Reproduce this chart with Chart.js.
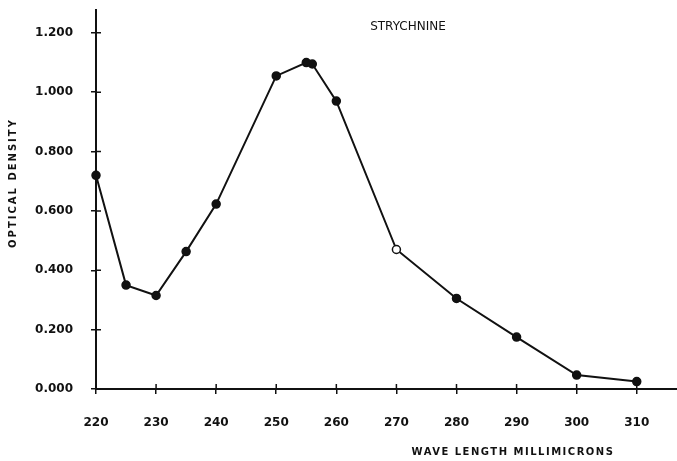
<!DOCTYPE html>
<html>
<head>
<meta charset="utf-8">
<script src="https://cdn.jsdelivr.net/npm/chart.js@4"></script>
<style>
  html, body { margin: 0; padding: 0; background: #fff; }
  #wrap { width: 677px; height: 461px; position: relative; }
</style>
</head>
<body>
<div id="wrap"><canvas id="chart"></canvas></div>
<script>
// Strychnine absorption curve
const wavelengths = [220, 225, 230, 235, 240, 250, 255, 256, 260, 270, 280, 290, 300, 310];
const density = [0.72, 0.35, 0.315, 0.463, 0.623, 1.055, 1.10, 1.095, 0.97, 0.47, 0.305, 0.175, 0.047, 0.025];
const xTicks = [220, 230, 240, 250, 260, 270, 280, 290, 300, 310];
const yTicks = [0, 0.2, 0.4, 0.6, 0.8, 1.0, 1.2];

const ink = '#111';
const tickFont = { family: 'DejaVu Sans', size: 12, weight: 'bold' };

// text labels and inner half of the axis ticks
const extras = {
  id: 'extras',
  afterDraw(chart) {
    const ctx = chart.ctx;
    const xs = chart.scales.x, ys = chart.scales.y;
    ctx.save();
    ctx.strokeStyle = ink;
    ctx.lineWidth = 1.5;
    ctx.beginPath();
    xTicks.forEach(v => {
      const px = xs.getPixelForValue(v);
      ctx.moveTo(px, ys.bottom);
      ctx.lineTo(px, ys.bottom - 5);
    });
    yTicks.forEach(v => {
      const py = ys.getPixelForValue(v);
      ctx.moveTo(xs.left, py);
      ctx.lineTo(xs.left + 5, py);
    });
    ctx.stroke();

    ctx.fillStyle = ink;
    ctx.textAlign = 'center';
    ctx.textBaseline = 'middle';
    ctx.font = '12px "DejaVu Sans"';
    ctx.fillText('STRYCHNINE', 408, 27);

    ctx.font = 'bold 10px "DejaVu Sans"';
    ctx.letterSpacing = '1.5px';
    ctx.fillText('WAVE LENGTH MILLIMICRONS', 513, 452);

    ctx.translate(13, 183);
    ctx.rotate(-Math.PI / 2);
    ctx.letterSpacing = '2px';
    ctx.fillText('OPTICAL DENSITY', 0, 0);
    ctx.restore();
  }
};

new Chart(document.getElementById('chart'), {
  type: 'line',
  data: {
    datasets: [{
      data: wavelengths.map((w, i) => ({ x: w, y: density[i] })),
      borderColor: ink,
      borderWidth: 2,
      pointRadius: 4,
      pointBackgroundColor: wavelengths.map(w => w === 270 ? '#fff' : ink),
      pointBorderColor: ink,
      pointBorderWidth: 1.5,
      tension: 0,
      clip: false
    }]
  },
  options: {
    responsive: true,
    maintainAspectRatio: false,
    animation: false,
    layout: { autoPadding: false, padding: { top: 10, right: 0, left: 0, bottom: 0 } },
    plugins: { legend: { display: false }, tooltip: { enabled: false } },
    scales: {
      x: {
        type: 'linear',
        min: 220,
        max: 316.7,
        afterFit: s => { s.height = 72; s.paddingLeft = 0; s.paddingRight = 0; },
        afterBuildTicks: s => { s.ticks = xTicks.map(v => ({ value: v })); },
        border: { display: true, color: ink, width: 2 },
        grid: { drawOnChartArea: false, drawTicks: true, tickLength: 5, color: ink, lineWidth: 1.5 },
        ticks: { color: ink, font: tickFont, padding: 22, maxRotation: 0, callback: v => String(v) }
      },
      y: {
        min: 0,
        max: 1.277,
        afterFit: s => { s.width = 96; s.paddingTop = 0; s.paddingBottom = 0; },
        afterBuildTicks: s => { s.ticks = yTicks.map(v => ({ value: v })); },
        border: { display: true, color: ink, width: 2 },
        grid: { drawOnChartArea: false, drawTicks: true, tickLength: 5, color: ink, lineWidth: 1.5 },
        ticks: { color: ink, font: tickFont, padding: 18, callback: v => v.toFixed(3) }
      }
    }
  },
  plugins: [extras]
});
</script>
</body>
</html>
